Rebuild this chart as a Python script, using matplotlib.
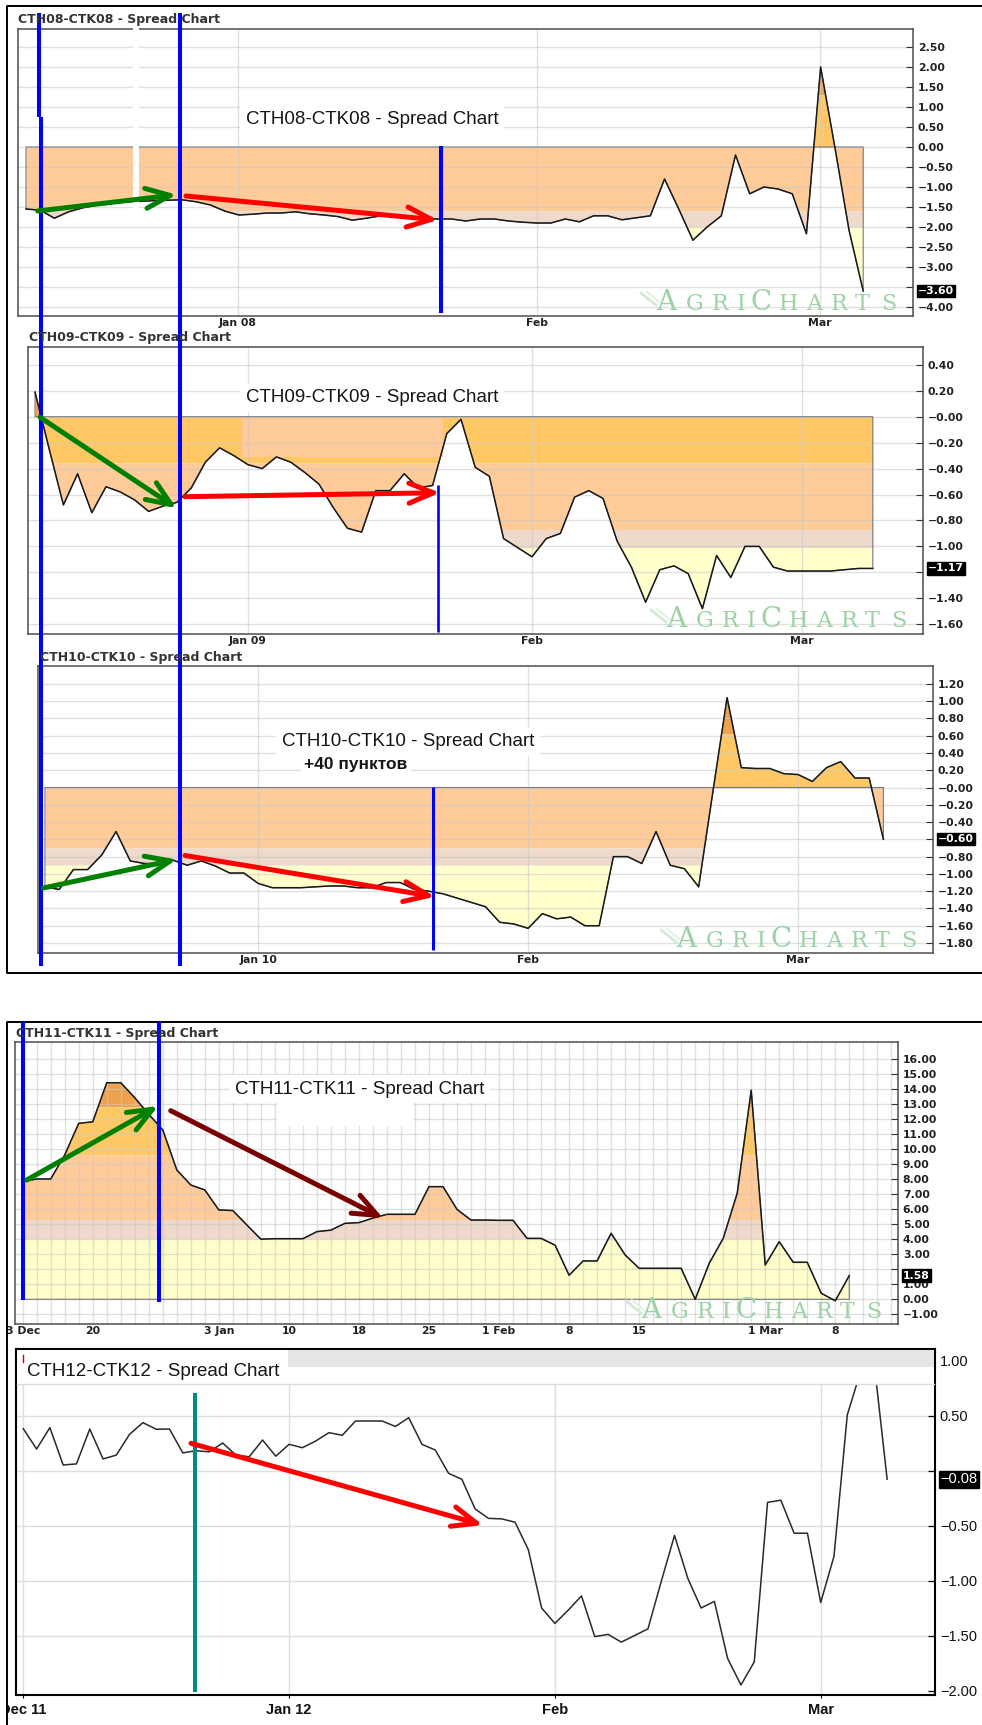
import numpy as np
import matplotlib.pyplot as plt
from matplotlib.patches import Rectangle

W, H = 982, 1725
fig = plt.figure(figsize=(W / 100, H / 100), dpi=100)

# spread values, one per trading day
cth08 = [-1.55, -1.58, -1.78, -1.62, -1.52, -1.45, -1.40, -1.37, -1.36, -1.34,
         -1.33, -1.32, -1.37, -1.45, -1.60, -1.70, -1.68, -1.65, -1.65, -1.62,
         -1.67, -1.70, -1.74, -1.83, -1.78, -1.72, -1.75, -1.75, -1.80, -1.80,
         -1.80, -1.85, -1.80, -1.80, -1.85, -1.88, -1.90, -1.90, -1.80, -1.87,
         -1.72, -1.72, -1.82, -1.77, -1.72, -0.80, -1.55, -2.33, -2.00, -1.72,
         -0.20, -1.17, -1.00, -1.05, -1.17, -2.17, 2.00, 0.00, -2.08, -3.60]
cth09 = [0.19, -0.25, -0.68, -0.44, -0.74, -0.54, -0.58, -0.64, -0.73, -0.69,
         -0.66, -0.55, -0.35, -0.24, -0.30, -0.37, -0.40, -0.31, -0.35, -0.43,
         -0.52, -0.70, -0.86, -0.89, -0.57, -0.57, -0.44, -0.55, -0.53, -0.13,
         -0.02, -0.39, -0.46, -0.94, -1.01, -1.08, -0.94, -0.90, -0.62, -0.57,
         -0.63, -0.96, -1.16, -1.43, -1.18, -1.15, -1.21, -1.48, -1.07, -1.24,
         -1.00, -1.00, -1.16, -1.19, -1.19, -1.19, -1.19, -1.18, -1.17, -1.17]
cth10 = [-1.15, -1.18, -0.95, -0.95, -0.78, -0.51, -0.85, -0.88, -0.88, -0.84,
         -0.90, -0.85, -0.91, -0.99, -0.99, -1.11, -1.16, -1.16, -1.16, -1.15,
         -1.14, -1.14, -1.16, -1.16, -1.10, -1.10, -1.18, -1.20, -1.23, -1.28,
         -1.33, -1.38, -1.56, -1.58, -1.63, -1.46, -1.52, -1.50, -1.60, -1.60,
         -0.80, -0.80, -0.88, -0.51, -0.90, -0.94, -1.15, -0.05, 1.04, 0.23,
         0.22, 0.22, 0.16, 0.15, 0.07, 0.23, 0.30, 0.11, 0.11, -0.60]
cth11 = [7.82, 8.0, 8.0, 9.6, 11.7, 11.8, 14.4, 14.4, 13.4, 12.3,
         11.26, 8.6, 7.6, 7.27, 5.94, 5.9, 4.94, 4.0, 4.03, 4.03,
         4.03, 4.5, 4.6, 5.05, 5.1, 5.4, 5.65, 5.65, 5.65, 7.49,
         7.49, 5.98, 5.27, 5.27, 5.25, 5.25, 4.05, 4.05, 3.6, 1.6,
         2.55, 2.55, 4.39, 2.95, 2.06, 2.06, 2.06, 2.06, 0.0, 2.39,
         4.05, 7.05, 13.9, 2.28, 3.83, 2.46, 2.46, 0.4, -0.1, 1.58]
cth12 = [0.38, 0.195, 0.39, 0.05, 0.06, 0.377, 0.105, 0.14, 0.33, 0.435,
         0.375, 0.377, 0.16, 0.18, 0.17, 0.25, 0.14, 0.125, 0.277, 0.13,
         0.238, 0.207, 0.268, 0.344, 0.32, 0.45, 0.45, 0.45, 0.40, 0.48,
         0.238, 0.186, -0.026, -0.08, -0.35, -0.435, -0.44, -0.47, -0.72, -1.25,
         -1.39, -1.27, -1.14, -1.51, -1.49, -1.56, -1.50, -1.44, -1.01, -0.59,
         -0.98, -1.25, -1.19, -1.71, -1.95, -1.74, -0.29, -0.27, -0.57, -0.57,
         -1.20, -0.78, 0.505, 0.9, 1.0, -0.08]

# x tick positions (trading day index) and labels
cth08_xt, cth08_xl = [14.94, 36.0, 55.95], ["Jan 08", "Feb", "Mar"]
cth09_xt, cth09_xl = [15.0, 35.0, 54.0], ["Jan 09", "Feb", "Mar"]
cth10_xt, cth10_xl = [15.0, 34.0, 53.0], ["Jan 10", "Feb", "Mar"]
cth11_xt = [0, 5, 14, 19, 24, 29, 34, 39, 44, 53, 58]
cth11_xl = ["3 Dec", "20", "3 Jan", "10", "18", "25", "1 Feb", "8", "15", "1 Mar", "8"]
cth12_xt, cth12_xl = [0, 20, 40, 60], ["Dec 11", "Jan 12", "Feb", "Mar"]

# y ticks
cth08_yt = [2.5, 2.0, 1.5, 1.0, 0.5, 0.0, -0.5, -1.0, -1.5, -2.0, -2.5, -3.0, -3.5, -4.0]
cth09_yt = [0.4, 0.2, 0.0, -0.2, -0.4, -0.6, -0.8, -1.0, -1.2, -1.4, -1.6]
cth10_yt = [1.2, 1.0, 0.8, 0.6, 0.4, 0.2, 0.0, -0.2, -0.4, -0.6, -0.8, -1.0, -1.2, -1.4, -1.6, -1.8]
cth11_yt = list(range(16, -2, -1))
cth12_yt = [1.0, 0.5, 0.0, -0.5, -1.0, -1.5, -2.0]

# price band colours
DARK, GOLD, ORANGE, PINK, YELLOW = '#efa24e', '#ffc865', '#ffcb98', '#efd9cb', '#ffffcc'
BLUE, GREEN, RED, MAROON = '#0000ff', '#008000', '#ff0000', '#7a0000'
MINUS = '\u2212'


def ylabels(ticks, hide, neg_zero=False):
    out = []
    for v in ticks:
        s = f"{abs(v):.2f}"
        if v < 0 or (v == 0 and neg_zero):
            s = MINUS + s
        out.append('' if v == hide else s)
    return out


def spread_panel(rect, x0, dx, zero, ppu, vals, bands, xt, xl, yt, ylab,
                 last, all_vgrid=False):
    l, t, r, b = rect
    ax = fig.add_axes([l / W, 1 - b / H, (r - l) / W, (b - t) / H])
    x = np.arange(len(vals))
    y = np.array(vals, dtype=float)
    ax.set_xlim((l - x0) / dx, (r - x0) / dx)
    ax.set_ylim((zero - b) / ppu, (zero - t) / ppu)

    # dense copy only so the colour bands follow the line exactly
    xf = np.linspace(0, len(vals) - 1, (len(vals) - 1) * 20 + 1)
    yf = np.interp(xf, x, y)
    for lo, hi, c in bands:
        ax.fill_between(xf, np.clip(yf, lo, hi), np.clip(0, lo, hi), color=c, lw=0, zorder=1)
    ax.fill_between(x, y, 0, facecolor='none', edgecolor='#7a7a7a', lw=0.8, zorder=2)

    for v in yt:
        ax.axhline(v, color='#c8c8c8', lw=1.0, alpha=0.55, zorder=1.5)
    vg = range(int(np.ceil(ax.get_xlim()[0])), int(ax.get_xlim()[1]) + 1) if all_vgrid else xt
    for v in vg:
        ax.axvline(v, color='#c8c8c8', lw=1.0, alpha=0.55, zorder=1.5)

    ax.plot(x, y, color='#1a1a1a', lw=1.1, zorder=3)

    for s in ax.spines.values():
        s.set_color('#4d4d4d')
        s.set_linewidth(1.1)
    ax.yaxis.tick_right()
    ax.set_yticks(yt)
    ax.set_yticklabels(ylab, fontsize=7.8, fontweight='bold', color='#222222')
    ax.tick_params(axis='y', direction='in', length=5, width=0.8, pad=3.5, color='#333333')
    ax.set_xticks(xt)
    ax.set_xticklabels(xl, fontsize=7.8, fontweight='bold', color='#222222')
    ax.tick_params(axis='x', length=0, pad=1.5)
    lab = (MINUS if last < 0 else '') + f"{abs(last):.2f}"
    ax.annotate(lab, xy=(1, last), xycoords=ax.get_yaxis_transform(), xytext=(3.6, 0),
                textcoords='offset points', ha='left', va='center', color='white',
                fontsize=7.8, fontweight='bold',
                bbox=dict(boxstyle='square,pad=0.1', fc='black', ec='black'))
    return ax


ax1 = spread_panel((18, 29, 913, 316), 26, 14.19, 147, 40, cth08,
                   [(1.3, 9, DARK), (0, 1.3, GOLD), (-1.6, 0, ORANGE), (-2.0, -1.6, PINK), (-9, -2.0, YELLOW)],
                   cth08_xt, cth08_xl, cth08_yt, ylabels(cth08_yt, -3.5), -3.60)
ax2 = spread_panel((28, 347, 923, 634), 35, 14.2, 416.7, 129.7, cth09,
                   [(0, 9, DARK), (-0.355, 0, GOLD), (-0.87, -0.355, ORANGE), (-1.01, -0.87, PINK), (-9, -1.01, YELLOW)],
                   cth09_xt, cth09_xl, cth09_yt, ylabels(cth09_yt, -1.2, True), -1.17)
# lighter patch left over from pasting the caption
ax2.add_patch(Rectangle((14.56, -0.31), 14.15, 0.31, color=ORANGE, lw=0, zorder=1.2))
ax3 = spread_panel((38, 666, 933, 952.5), 45, 14.21, 787.5, 86.4, cth10,
                   [(0.62, 9, DARK), (0, 0.62, GOLD), (-0.70, 0, ORANGE), (-0.90, -0.70, PINK), (-9, -0.90, YELLOW)],
                   cth10_xt, cth10_xl, cth10_yt, ylabels(cth10_yt, -0.6, True), -0.60)
ax4 = spread_panel((15, 1041.7, 898, 1324), 22.7, 14.01, 1299.3, 15.04, cth11,
                   [(12.8, 99, DARK), (9.6, 12.8, GOLD), (5.3, 9.6, ORANGE), (4.0, 5.3, PINK), (-9, 4.0, YELLOW)],
                   cth11_xt, cth11_xl, cth11_yt, ylabels(cth11_yt, 2), 1.58, all_vgrid=True)

# CTH12 panel: plain line chart
l, t, r, b = 16, 1349, 935, 1695
ax5 = fig.add_axes([l / W, 1 - b / H, (r - l) / W, (b - t) / H])
x5 = np.arange(len(cth12))
ax5.set_xlim((l - 23.3) / 13.29, (r - 23.3) / 13.29)
ax5.set_ylim((1470.5 - b) / 110, (1470.5 - t) / 110)
for v in [0.5, 0.0, -0.5, -1.0, -1.5]:
    ax5.axhline(v, color='#dedede', lw=1.0, zorder=0)
for v in cth12_xt:
    ax5.axvline(v, color='#dedede', lw=1.0, zorder=0)
ax5.plot(x5, cth12, color='#2a2a2a', lw=1.1, zorder=3)
for s in ax5.spines.values():
    s.set_color('black')
    s.set_linewidth(1.5)
ax5.yaxis.tick_right()
ax5.set_yticks(cth12_yt)
ax5.set_yticklabels(ylabels(cth12_yt, 0.0), fontsize=10.5, family='Liberation Sans', color='#111111')
ax5.tick_params(axis='y', direction='in', length=5, width=0.9, pad=3.5)
ax5.set_xticks(cth12_xt)
ax5.set_xticklabels(cth12_xl, fontsize=10.5, fontweight='bold', family='Liberation Sans', color='#111111')
ax5.tick_params(axis='x', direction='out', length=2, pad=4)
ax5.annotate(MINUS + '0.08', xy=(1, cth12[-1]), xycoords=ax5.get_yaxis_transform(), xytext=(3.6, 0),
             textcoords='offset points', ha='left', va='center', color='white', fontsize=10.5,
             family='Liberation Sans', bbox=dict(boxstyle='square,pad=0.1', fc='black', ec='black'))

# overlay in screen pixels for the hand drawn marks, captions and frames
ov = fig.add_axes([0, 0, 1, 1])
ov.set_xlim(0, W)
ov.set_ylim(H, 0)
ov.axis('off')


def vline(x, y0, y1, color=BLUE, lw=2.9):
    ov.plot([x, x], [y0, y1], color=color, lw=lw, solid_capstyle='butt')


def arrow(p0, p1, color):
    ov.annotate('', xy=p1, xytext=p0,
                arrowprops=dict(arrowstyle='->,head_length=1.1,head_width=0.45', color=color,
                                lw=3.6, mutation_scale=16, shrinkA=0, shrinkB=0))


def logo(right, base):
    offs = [13, 42, 67, 88, 108, 136, 161, 186, 209, 236]
    for i, (ch, o) in enumerate(zip("AGRICHARTS", offs)):
        ov.text(right - 250 + o, base, ch, ha='center', va='baseline', color='#9dd2a5',
                fontsize=20 if i in (0, 4) else 16, family='DejaVu Serif')
    # faint leaf in front of the wordmark
    ov.plot([right - 262, right - 247], [base - 17, base - 5], color='#d3ead5', lw=2.0)
    ov.plot([right - 256, right - 244], [base - 18, base - 8], color='#e0f1e1', lw=1.4)


for right, base in [(903, 310), (913, 627), (923, 947), (888, 1318)]:
    logo(right, base)

# frames around the two pasted screenshots
ov.plot([982, 6.7, 6.7, 982], [6, 6, 973, 973], color='black', lw=1.4)
ov.plot([982, 6.7, 6.7], [1022, 1022, 1725], color='black', lw=1.4)

# small panel captions
small = dict(fontsize=9, fontweight='bold', color='#333333', va='center', ha='left')
ov.text(18, 20, "CTH08-CTK08 - Spread Chart", **small)
ov.text(29, 338, "CTH09-CTK09 - Spread Chart", **small)
ov.text(40, 657, "CTH10-CTK10 - Spread Chart", **small)
ov.text(16, 1033, "CTH11-CTK11 - Spread Chart", **small)

# white strip left over in the first screenshot
ov.add_patch(Rectangle((133.5, 13), 5.5, 214, color='white', lw=0))

# big captions
big = dict(fontsize=13.5, family='Liberation Sans', color='#151515', va='center', ha='left',
           bbox=dict(boxstyle='square,pad=0.3', fc='white', ec='none'))
ov.text(245.7, 120, "CTH08-CTK08 - Spread Chart", **big)
ov.text(245.7, 398, "CTH09-CTK09 - Spread Chart", **big)
ov.text(281.7, 742, "CTH10-CTK10 - Spread Chart", **big)
ov.text(304, 764, "+40 пунктов", fontsize=12.5, fontweight='bold', family='Liberation Sans',
        color='#151515', va='center', ha='left',
        bbox=dict(boxstyle='square,pad=0.2', fc='white', ec='none'))
ov.add_patch(Rectangle((277, 1100), 136, 26, color='white', lw=0))
ov.text(235, 1089, "CTH11-CTK11 - Spread Chart", **big)

# CTH12 header strip with its caption
ov.add_patch(Rectangle((17, 1350), 917, 34, color='white', lw=0))
ov.add_patch(Rectangle((288, 1350), 646, 17, color='#e6e6e6', lw=0))
ov.plot([17, 934], [1384, 1384], color='#dcdcdc', lw=1)
ov.plot([23.5, 23.5], [1355, 1362], color='#cc0000', lw=1)
ov.text(27, 1372, "CTH12-CTK12 - Spread Chart", fontsize=13.5, family='Liberation Sans',
        color='#151515', va='center', ha='left')
ov.add_patch(Rectangle((0, 1695), 7.5, 30, color='white', lw=0))

# hand drawn marks
vline(39.5, 13, 117)
vline(41, 117, 966)
vline(180.5, 13, 966)
vline(441, 146, 313)
vline(437.7, 485, 631.7, lw=1.9)
vline(433, 787, 950, lw=2.2)
vline(23.3, 1022, 1300)
vline(159.3, 1022, 1302)
vline(195, 1393, 1692, color='#008b8b')

arrow((37.7, 211), (176.7, 194.7), GREEN)
arrow((186, 196), (438, 220), RED)
arrow((40, 417.3), (176.7, 508.3), GREEN)
arrow((185, 496.7), (440, 492.7), RED)
arrow((43.3, 888), (176.7, 859.5), GREEN)
arrow((185, 855.5), (435, 896.7), RED)
arrow((26.7, 1180), (158.3, 1106), GREEN)
arrow((170.7, 1110.7), (383.3, 1218.3), MAROON)
arrow((191, 1443.3), (483, 1525), RED)

fig.savefig('out.png', dpi=100)
